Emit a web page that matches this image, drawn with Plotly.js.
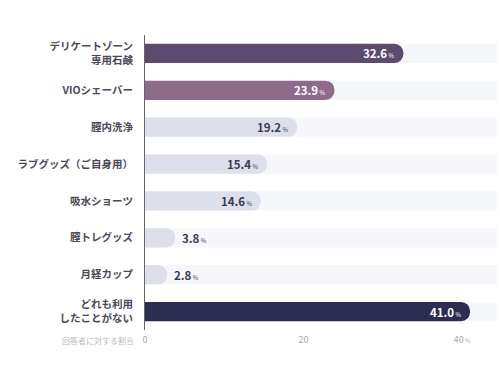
<!DOCTYPE html>
<html><head><meta charset="utf-8">
<script src="https://cdn.plot.ly/plotly-3.0.1.min.js"></script>
<style>html,body{margin:0;padding:0;background:#fff}#chart{width:500px;height:375px}</style>
</head><body><div id="chart"></div>
<script>
const categories = ["デリケートゾーン<br>専用石鹸","VIOシェーバー","膣内洗浄","ラブグッズ（ご自身用）","吸水ショーツ","膣トレグッズ","月経カップ","どれも利用<br>したことがない"];
const values = [32.6, 23.9, 19.2, 15.4, 14.6, 3.8, 2.8, 41.0];
const barColors = ["#5c4a6f","#8f6b8b","#dde0ea","#dde0ea","#dde0ea","#dde0ea","#dde0ea","#2c2d51"];
const textColors = ["#ffffff","#ffffff","#3b3b4f","#3b3b4f","#3b3b4f","#3b3b4f","#3b3b4f","#ffffff"];
const labelInside = [true, true, true, true, true, false, false, true];
const axisMax = 44.4;
const tickVals = [0, 20, 40];
const tickText = ["0", "20", "40<span style='font-size:6px'> %</span>"];
const axisNote = "回答者に対する割合";

const font = "'Noto Sans CJK JP', 'Noto Sans', sans-serif";
const main = {
  type: 'bar', orientation: 'h', y: categories, x: values,
  marker: {color: barColors, cornerradius: 10}, width: 0.52,
  textposition: 'none', hoverinfo: 'skip', showlegend: false
};
const shapes = categories.map((c, i) => ({
  type: 'rect', layer: 'below', xref: 'x', yref: 'y', x0: 0, x1: axisMax,
  y0: i - 0.26, y1: i + 0.26, fillcolor: '#f6f7fa', line: {width: 0}
}));
const valueLabels = values.map((v, i) => ({
  xref: 'x', yref: 'y', x: v, y: categories[i], showarrow: false,
  xanchor: labelInside[i] ? 'right' : 'left', xshift: labelInside[i] ? -7 : 5,
  text: "<b>" + v.toFixed(1) + "</b><span style='font-size:6px'> %</span>",
  font: {family: font, size: 11.5, color: labelInside[i] ? textColors[i] : '#3b3b4f'}
}));
const layout = {
  width: 500, height: 375, margin: {l: 145, r: 3, t: 35, b: 45},
  paper_bgcolor: '#fff', plot_bgcolor: '#fff', barmode: 'group', barcornerradius: 10,
  font: {family: font}, shapes: shapes,
  xaxis: {range: [0, axisMax], tickvals: tickVals, ticktext: tickText, showgrid: false, zeroline: false,
          tickfont: {family: font, size: 9, color: '#a8a8b0'}, ticks: '', ticklabelstandoff: 3, fixedrange: true},
  yaxis: {autorange: false, range: [7.5, -0.5], type: 'category', showline: true, linecolor: '#666', linewidth: 1,
          ticks: '', ticklabelstandoff: 9, tickfont: {family: font, size: 10.5, color: '#4a4a55', weight: 'bold'}, fixedrange: true},
  annotations: valueLabels.concat([{text: axisNote, xref: 'x', yref: 'paper', x: 0, y: 0, xanchor: 'right', yanchor: 'top',
                 xshift: -9, yshift: -3, showarrow: false, font: {family: font, size: 8, color: '#b8b8c0'}}])
};
Plotly.newPlot('chart', [main], layout, {displayModeBar: false, staticPlot: true});
</script></body></html>
